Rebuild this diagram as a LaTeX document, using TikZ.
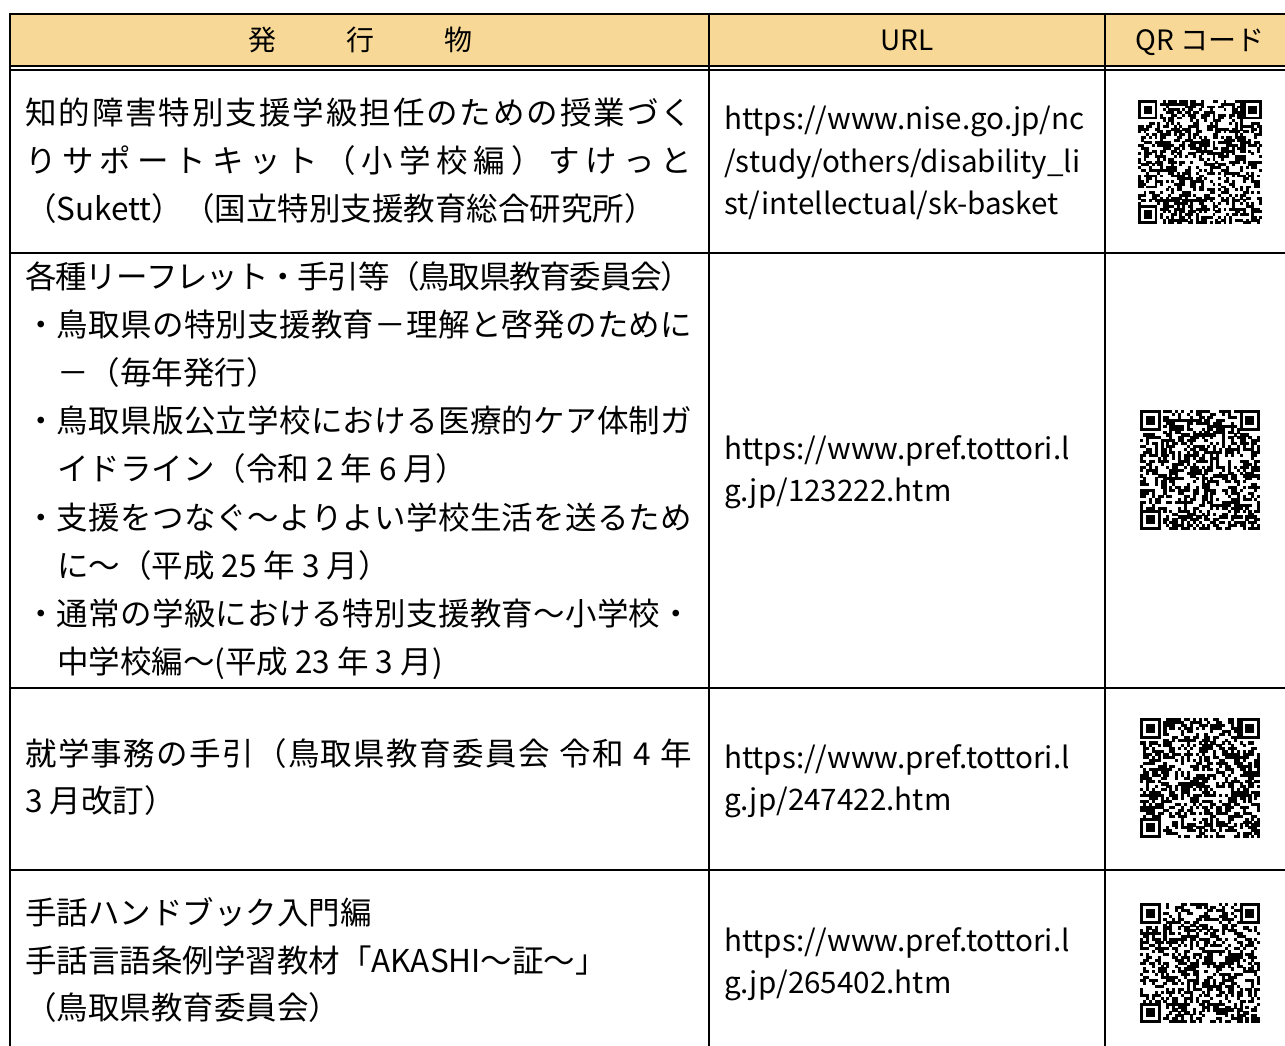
\documentclass[tikz,border=0pt]{standalone}
\usepackage{fontspec}
\setmainfont{Noto Sans CJK JP}
\definecolor{hdrfill}{RGB}{247,216,150}
\newcommand\jpfont{\fontsize{31.5}{36}\selectfont}
\newcommand\urlfont{\fontsize{29.6}{36}\selectfont}
\newcommand\hdfont{\fontsize{28}{32}\selectfont}
\makeatletter
\def\sl@first#1{#1\sl@next}
\def\sl@next#1{\ifx\sl@end#1\else\hss#1\expandafter\sl@next\fi}
\def\sl@end{\sl@end}
\newcommand\spreadline[2]{\makebox[#1][s]{\sl@first#2\sl@end}}
\makeatother
\newcommand\qrfinder[3]{%
  \fill (#1,#2) rectangle ++(7*#3,7*#3);
  \fill[white] (#1+#3,#2+#3) rectangle ++(5*#3,5*#3);
  \fill (#1+2*#3,#2+2*#3) rectangle ++(3*#3,3*#3);
}
\newcommand\qrcode[5]{% x, y, module, N, seed
  \pgfmathsetseed{#5}%
  \pgfmathtruncatemacro\qrlast{#4-1}%
  \pgfmathtruncatemacro\qrfar{#4-8}%
  \pgfmathtruncatemacro\qrend{#4-7}%
  \foreach \qi in {0,...,\qrlast}{%
    \foreach \qj in {0,...,\qrlast}{%
      \pgfmathrandominteger{\qrr}{0}{1}%
      \pgfmathtruncatemacro\qrskip{or(and(\qi<8,\qj<8),or(and(\qi<8,\qj>\qrfar),and(\qi>\qrfar,\qj<8)))}%
      \ifnum\qrskip=0 \ifnum\qrr=1 \fill (#1+\qi*#3,#2+\qj*#3) rectangle ++(#3+0.15,#3+0.15);\fi\fi
    }%
  }%
  \qrfinder{#1}{#2}{#3}
  \qrfinder{#1+\qrend*#3}{#2}{#3}
  \qrfinder{#1}{#2+\qrend*#3}{#3}
}
\tikzset{
  jp/.style={anchor=base west, inner sep=0pt, font=\jpfont},
  url/.style={anchor=base west, inner sep=0pt, font=\urlfont},
  hd/.style={anchor=base, inner sep=0pt, font=\hdfont},
  rule/.style={line width=2.5pt, line cap=butt},
}
\begin{document}
\begin{tikzpicture}[x=1pt,y=-1pt]
\useasboundingbox (0,0) rectangle (1285,1046);
\fill[white] (0,0) rectangle (1285,1046);
% header
\fill[hdrfill] (10,14) rectangle (1285,66);
\node[hd] (h1) at (262,51) {発};
\node[hd] (h2) at (360,51) {行};
\node[hd] (h3) at (458,51) {物};
\node[hd] (h4) at (907,51) {URL};
\node[hd] (h5) at (1200,51) {QR コード};
% grid
\draw[rule] (10,14) -- (1285,14);
\draw[line width=2pt] (10,66.5) -- (1285,66.5);
\draw[line width=2pt] (10,70.5) -- (1285,70.5);
\draw[rule] (10,253) -- (1285,253);
\draw[rule] (10,688) -- (1285,688);
\draw[rule] (10,870) -- (1285,870);
\draw[rule] (10,12.75) -- (10,1046);
\draw[rule] (709,12.75) -- (709,1046);
\draw[rule] (1105,12.75) -- (1105,1046);
% row 1
\node[jp] (a1) at (25,125) {\spreadline{667pt}{知的障害特別支援学級担任のための授業づく}};
\node[jp] (a2) at (25,172) {\spreadline{667pt}{りサポートキット（小学校編）すけっと}};
\node[jp] (a3) at (25,220) {（Sukett）（国立特別支援教育総合研究所）};
\node[url] (u1a) at (724,130) {https://www.nise.go.jp/nc};
\node[url] (u1b) at (724,172) {/study/others/disability\_li};
\node[url] (u1c) at (724,214) {st/intellectual/sk-basket};
% row 2
\node[jp] (b1) at (25,288) {\spreadline{667pt}{各種リーフレット・手引等（鳥取県教育委員会）}};
\node[jp] (b2) at (25,336) {\spreadline{667pt}{・鳥取県の特別支援教育－理解と啓発のために}};
\node[jp] (b3) at (57,384) {－（毎年発行）};
\node[jp] (b4) at (25,432) {\spreadline{667pt}{・鳥取県版公立学校における医療的ケア体制ガ}};
\node[jp] (b5) at (57,480) {イドライン（令和 2 年 6 月）};
\node[jp] (b6) at (25,529) {\spreadline{667pt}{・支援をつなぐ～よりよい学校生活を送るため}};
\node[jp] (b7) at (57,577) {に～（平成 25 年 3 月）};
\node[jp] (b8) at (25,625) {\spreadline{667pt}{・通常の学級における特別支援教育～小学校・}};
\node[jp] (b9) at (57,673) {中学校編～(平成 23 年 3 月)};
\node[url] (u2a) at (724,459) {https://www.pref.tottori.l};
\node[url] (u2b) at (724,501) {g.jp/123222.htm};
% row 3
\node[jp] (c1) at (25,765) {\spreadline{667pt}{就学事務の手引（鳥取県教育委員会~令和~4~年}};
\node[jp] (c2) at (25,812) {3 月改訂）};
\node[url] (u3a) at (724,768) {https://www.pref.tottori.l};
\node[url] (u3b) at (724,810) {g.jp/247422.htm};
% row 4
\node[jp] (d1) at (25,924) {手話ハンドブック入門編};
\node[jp] (d2) at (25,972) {手話言語条例学習教材「AKASHI～証～」};
\node[jp] (d3) at (25,1019) {（鳥取県教育委員会）};
\node[url] (u4a) at (724,951) {https://www.pref.tottori.l};
\node[url] (u4b) at (724,993) {g.jp/265402.htm};
% QR codes
\qrcode{1138}{100}{2.76}{45}{11}
\qrcode{1140}{410}{2.93}{41}{23}
\qrcode{1140}{718}{2.93}{41}{37}
\qrcode{1140}{903}{2.93}{41}{51}
\end{tikzpicture}
\end{document}
